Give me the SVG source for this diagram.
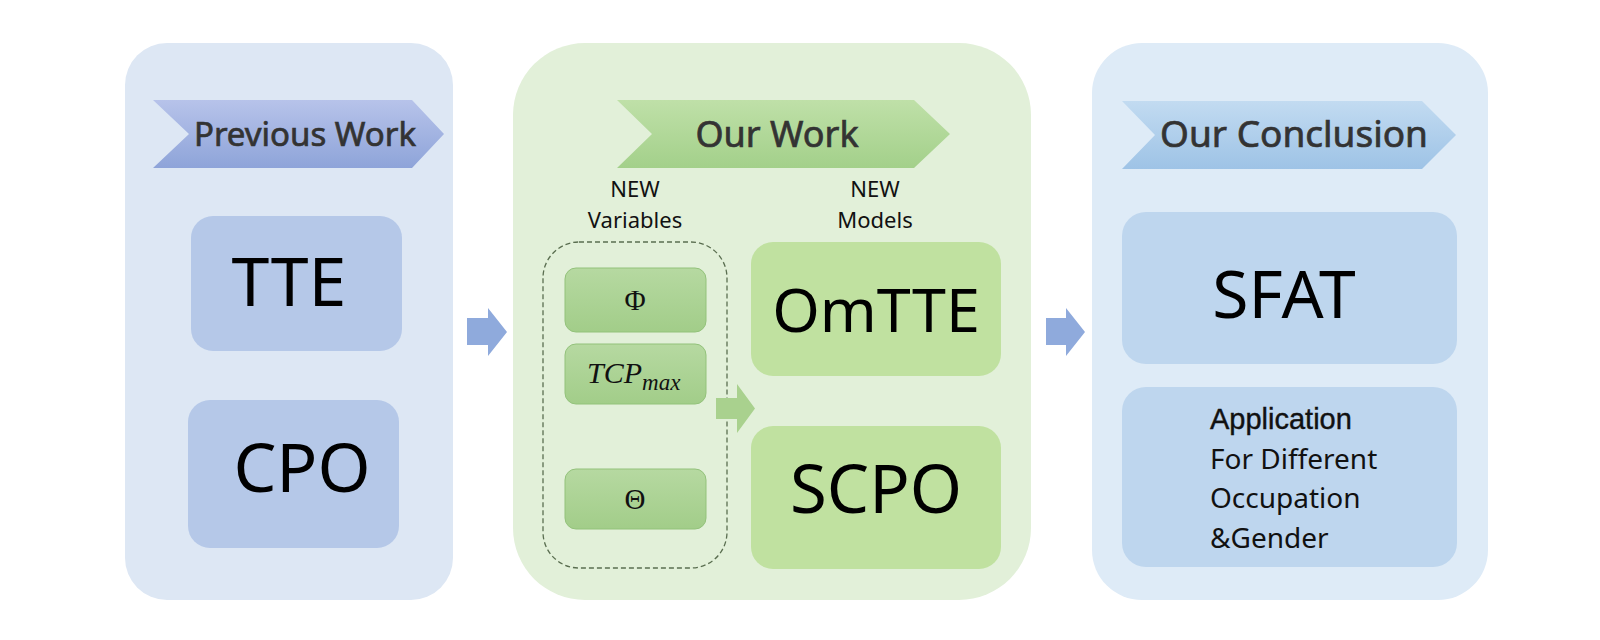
<svg xmlns="http://www.w3.org/2000/svg" width="1600" height="640" viewBox="0 0 1600 640">
<defs>
<linearGradient id="gBlueBan" x1="0" y1="0" x2="0" y2="1"><stop offset="0" stop-color="#b7c3ea"/><stop offset="1" stop-color="#8ea4d9"/></linearGradient>
<linearGradient id="gGreenBan" x1="0" y1="0" x2="0" y2="1"><stop offset="0" stop-color="#bfe0a8"/><stop offset="1" stop-color="#a3d08a"/></linearGradient>
<linearGradient id="gSkyBan" x1="0" y1="0" x2="0" y2="1"><stop offset="0" stop-color="#c2dbf1"/><stop offset="1" stop-color="#9ec3e6"/></linearGradient>
<linearGradient id="gVar" x1="0" y1="0" x2="0" y2="1"><stop offset="0" stop-color="#b6d9a1"/><stop offset="1" stop-color="#a2cd89"/></linearGradient>
</defs>
<style>
.panelB{fill:#dde7f4}
.panelG{fill:#e2f0d9}
.panelS{fill:#deebf7}
.boxB{fill:#b5c8e8}
.boxG{fill:#c0e1a0}
.boxS{fill:#bed6ee}
.var{fill:url(#gVar);stroke:#93c27b;stroke-width:1}
.ban{font-family:"Noto Sans","Open Sans",sans-serif;fill:#333333;stroke:#333333;stroke-width:0.7;text-anchor:middle}
.big{font-family:"Noto Sans","Open Sans",sans-serif;fill:#000;text-anchor:middle}
.lbl{font-family:"Noto Sans","Open Sans",sans-serif;fill:#111;text-anchor:middle;font-size:22px}
.math{font-family:"Liberation Serif","DejaVu Serif",serif;fill:#111;text-anchor:middle}
.mathL{font-family:"Liberation Serif","DejaVu Serif",serif;fill:#111;text-anchor:start;font-style:italic}
.app{font-family:"Noto Sans","Open Sans",sans-serif;fill:#111;font-size:28px}
</style>
<rect width="1600" height="640" fill="#ffffff"/>

<g id="panel-previous">
<rect class="panelB" x="125" y="43" width="328" height="557" rx="42"/>
<polygon fill="url(#gBlueBan)" points="153,100 412,100 444,134 412,168 153,168 189,134"/>
<text class="ban" x="305" y="146" font-size="33">Previous Work</text>
</g>
<g id="node-tte">
<rect class="boxB" x="191" y="216" width="211" height="135" rx="22"/>
<text class="big" x="289" y="306" font-size="68">TTE</text>
</g>
<g id="node-cpo">
<rect class="boxB" x="188" y="400" width="211" height="148" rx="22"/>
<text class="big" x="302" y="492" font-size="68">CPO</text>
</g>

<g id="panel-ourwork">
<rect class="panelG" x="513" y="43" width="518" height="557" rx="72"/>
<polygon fill="url(#gGreenBan)" points="617,100 914,100 950,134 914,168 617,168 652,134"/>
<text class="ban" x="777" y="147" font-size="36">Our Work</text>
<text class="lbl" x="635" y="197">NEW</text>
<text class="lbl" x="635" y="228">Variables</text>
<text class="lbl" x="875" y="197">NEW</text>
<text class="lbl" x="875" y="228">Models</text>
<rect x="543" y="242" width="184" height="326" rx="36" fill="none" stroke="#5a6e50" stroke-width="1.3" stroke-dasharray="5,3"/>
</g>
<g id="node-phi">
<rect class="var" x="565" y="268" width="141" height="64" rx="11"/>
<text class="math" x="635" y="310" font-size="29">Φ</text>
</g>
<g id="node-tcpmax">
<rect class="var" x="565" y="344" width="141" height="60" rx="11"/>
<text class="mathL" x="587" y="383" font-size="30">TCP<tspan font-size="23" dy="7">max</tspan></text>
</g>
<g id="node-theta">
<rect class="var" x="565" y="469" width="141" height="60" rx="11"/>
<text class="math" x="635" y="509" font-size="29">Θ</text>
</g>
<g id="node-omtte">
<rect class="boxG" x="751" y="242" width="250" height="134" rx="22"/>
<text class="big" x="876" y="332" font-size="61">OmTTE</text>
</g>
<g id="node-scpo">
<rect class="boxG" x="751" y="426" width="250" height="143" rx="22"/>
<text class="big" x="876" y="513" font-size="67">SCPO</text>
</g>

<g id="panel-conclusion">
<rect class="panelS" x="1092" y="43" width="396" height="557" rx="50"/>
<polygon fill="url(#gSkyBan)" points="1122,101 1422,101 1456,135 1422,169 1122,169 1155,135"/>
<text class="ban" x="1294" y="147" font-size="37">Our Conclusion</text>
</g>
<g id="node-sfat">
<rect class="boxS" x="1122" y="212" width="335" height="152" rx="24"/>
<text class="big" x="1284" y="318" font-size="66">SFAT</text>
</g>
<g id="node-application">
<rect class="boxS" x="1122" y="387" width="335" height="180" rx="24"/>
<text x="1210" y="429" font-family="Liberation Sans, Arial, sans-serif" font-size="29" fill="#111" stroke="#111" stroke-width="0.4">Application</text>
<text class="app" x="1210" y="469">For Different</text>
<text class="app" x="1210" y="508">Occupation</text>
<text class="app" x="1210" y="548">&amp;Gender</text>
</g>

<g id="connectors">
<polygon fill="#8faadc" points="467,318 488,318 488,308 507,332 488,356 488,345 467,345"/>
<polygon fill="#a9d18e" points="716,398 737,398 737,384 755,408.5 737,433 737,419 716,419"/>
<polygon fill="#8faadc" points="1046,318 1066,318 1066,308 1085,332 1066,356 1066,345 1046,345"/>
</g>
</svg>
